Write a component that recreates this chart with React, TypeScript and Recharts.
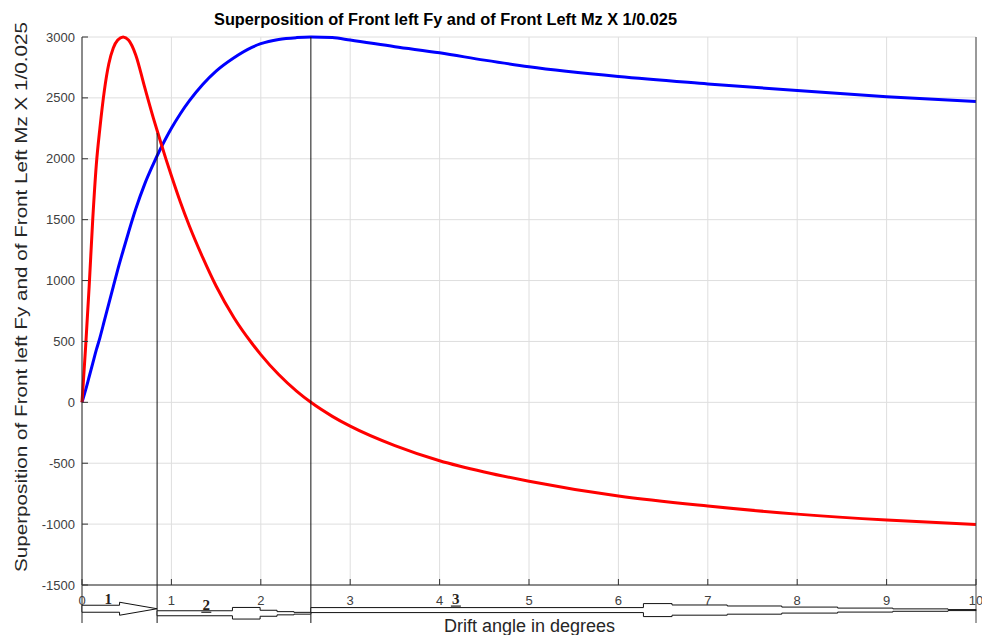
import React from "react";
import { LineChart, Line, XAxis, YAxis, CartesianGrid, ReferenceLine, Customized } from "recharts";

// drift angle (degrees)
const driftAngle = [
  0, 0.04, 0.08, 0.12, 0.16, 0.2, 0.25, 0.3, 0.35, 0.4, 0.46, 0.52, 0.6, 0.7, 0.8, 0.87, 0.94, 1, 1.1, 1.2,
  1.35, 1.5, 1.7, 1.9, 2, 2.2, 2.4, 2.56, 2.8, 3, 3.5, 4, 4.5, 5, 6, 7, 8, 9, 10,
];
// Front left Fy (blue)
const frontLeftFy = [
  0, 100, 210, 320, 430, 530, 670, 810, 950, 1090, 1245, 1395, 1585, 1790, 1960, 2070, 2170, 2250, 2370, 2475,
  2610, 2720, 2830, 2915, 2945, 2980, 2995, 3000, 2995, 2975, 2920, 2870, 2810, 2755, 2675, 2615, 2560, 2510, 2470,
];
// Front left Mz x 1/0.025 (red)
const frontLeftMz = [
  0, 450, 950, 1500, 1950, 2250, 2560, 2780, 2910, 2975, 3000, 2975, 2855, 2590, 2330, 2160, 1995, 1860, 1645, 1450,
  1190, 955, 695, 485, 392, 228, 92, 0, -115, -196, -356, -480, -572, -648, -770, -852, -918, -967, -1003,
];

const xTicks = [0, 1, 2, 3, 4, 5, 6, 7, 8, 9, 10];
const yTicks = [-1500, -1000, -500, 0, 500, 1000, 1500, 2000, 2500, 3000];

// zones marked under the axis
const zoneBounds = [0, 0.84, 2.56, 10];
const zoneNames = ["1", "2", "3"];
const zoneLevels = [-1695, -1732, -1706];
const dividerTops = [2211, 3000];
const annotationBottom = -1812;

const data = driftAngle.map((x, i) => ({ x, fy: frontLeftFy[i], mz: frontLeftMz[i] }));

const FONT = "'Liberation Sans', Arial, sans-serif";
const TITLE = "Superposition of Front left Fy and of Front Left Mz X 1/0.025";

// half-height outlines of the hand drawn arrows: [fraction along, half height]
const arrowOutlines = [
  [[0, 3.5], [0.5, 3.5], [0.5, 6.5], [1, 0]],
  [[0, 2.5], [0.49, 2.5], [0.49, 5.8], [0.67, 5.8], [0.67, 3], [0.78, 3], [0.78, 1.6], [0.89, 1.6], [0.89, 0.9], [1, 0.9]],
  [
    [0, 2.5], [0.5, 2.5], [0.5, 6.5], [0.543, 6.5], [0.543, 5.1], [0.626, 5.1], [0.626, 4.1], [0.708, 4.1],
    [0.708, 3], [0.792, 3], [0.792, 2], [0.875, 2], [0.875, 1.2], [0.958, 1.2], [0.958, 0.5], [1, 0.5],
  ],
];
const labelFrac = [0.35, 0.32, 0.218];
const labelDy = [-5, -3, -6];

const makeArrow = (i: number) => (props: any) => {
  const { x1, x2, y1 } = props;
  const w = x2 - x1;
  const pts = arrowOutlines[i];
  const top = pts.map(([f, h]) => `${x1 + f * w},${y1 - h}`);
  const bottom = [...pts].reverse().map(([f, h]) => `${x1 + f * w},${y1 + h}`);
  const lx = x1 + labelFrac[i] * w;
  return (
    <g>
      <polygon points={[...top, ...bottom].join(" ")} fill="#fff" stroke="#111" strokeWidth={1} />
      <text x={lx} y={y1 + labelDy[i]} textAnchor="middle" fontFamily="'Liberation Serif', 'Times New Roman', serif"
        fontWeight="bold" fontSize={15} fill="#2a1f1a">{zoneNames[i]}</text>
      {i > 0 && <line x1={lx - 5} x2={lx + 5} y1={y1 + labelDy[i] + 2} y2={y1 + labelDy[i] + 2} stroke="#222" strokeWidth={1.2} />}
    </g>
  );
};

const BottomTick = ({ x, y, payload }: any) => (
  <g>
    <line x1={x} x2={x} y1={y} y2={y - 6} stroke="#333" />
    <text x={x} y={y + 20} textAnchor="middle" fontSize={13} fill="#404040" fontFamily={FONT}>{payload.value}</text>
  </g>
);
const TopTick = ({ x, y }: any) => <line x1={x} x2={x} y1={y} y2={y + 6} stroke="#555" />;
const LeftTick = ({ x, y, payload }: any) => (
  <g>
    <line x1={x} x2={x + 6} y1={y} y2={y} stroke="#333" />
    <text x={x - 7} y={y + 4.5} textAnchor="end" fontSize={13} fill="#404040" fontFamily={FONT}>{payload.value}</text>
  </g>
);
const RightTick = ({ x, y }: any) => <line x1={x} x2={x - 6} y1={y} y2={y} stroke="#555" />;

const Labels = () => (
  <g fontFamily={FONT}>
    <text x={445.5} y={25} textAnchor="middle" fontSize={16} fontWeight="bold" fill="#000" textLength={463} lengthAdjust="spacingAndGlyphs">{TITLE}</text>
    <text x={0} y={0} transform="translate(27,297) rotate(-90)" textAnchor="middle" fontSize={17} fill="#262626" textLength={550} lengthAdjust="spacingAndGlyphs">{TITLE}</text>
    <text x={529.5} y={632} textAnchor="middle" fontSize={18} fill="#262626">Drift angle in degrees</text>
  </g>
);

export default function App() {
  return (
    <div style={{ position: "absolute", left: 0, top: 0, background: "#fff" }}>
      <LineChart width={982} height={635} data={data} margin={{ top: 37, right: 6, bottom: 0, left: 0 }}>
        <CartesianGrid stroke="#dedede" ticks={xTicks} />
        <XAxis dataKey="x" type="number" domain={[0, 10]} ticks={xTicks} interval={0} height={50}
          axisLine={{ stroke: "#262626" }} tickLine={false} tickSize={0} tickMargin={0} tick={<BottomTick />} />
        <XAxis xAxisId="top" orientation="top" dataKey="x" type="number" domain={[0, 10]} ticks={xTicks} interval={0} height={0}
          axisLine={{ stroke: "#888" }} tickLine={false} tickSize={0} tickMargin={0} tick={<TopTick />} />
        <YAxis type="number" domain={[-1500, 3000]} ticks={yTicks} interval={0} width={82}
          axisLine={{ stroke: "#262626" }} tickLine={false} tickSize={0} tickMargin={0} tick={<LeftTick />} />
        <YAxis yAxisId="right" orientation="right" type="number" domain={[-1500, 3000]} ticks={yTicks} interval={0} width={0}
          axisLine={{ stroke: "#555" }} tickLine={false} tickSize={0} tickMargin={0} tick={<RightTick />} />
        <Line dataKey="fy" type="monotone" stroke="#0000ff" strokeWidth={3} dot={false} isAnimationActive={false} />
        <Line dataKey="mz" type="monotone" stroke="#ff0000" strokeWidth={3} dot={false} isAnimationActive={false} />
        {dividerTops.map((top, i) => (
          <ReferenceLine key={"d" + i} ifOverflow="visible" stroke="#111" strokeWidth={1}
            segment={[{ x: zoneBounds[i + 1], y: top }, { x: zoneBounds[i + 1], y: annotationBottom }]} />
        ))}
        <ReferenceLine ifOverflow="visible" stroke="#262626"
          segment={[{ x: zoneBounds[0], y: -1500 }, { x: zoneBounds[0], y: annotationBottom }]} />
        <ReferenceLine ifOverflow="visible" stroke="#444"
          segment={[{ x: zoneBounds[3], y: 3000 }, { x: zoneBounds[3], y: annotationBottom }]} />
        {zoneNames.map((name, i) => (
          <ReferenceLine key={"z" + name} ifOverflow="visible" shape={makeArrow(i)}
            segment={[{ x: zoneBounds[i], y: zoneLevels[i] }, { x: zoneBounds[i + 1], y: zoneLevels[i] }]} />
        ))}
        <Customized component={<Labels />} />
      </LineChart>
    </div>
  );
}
